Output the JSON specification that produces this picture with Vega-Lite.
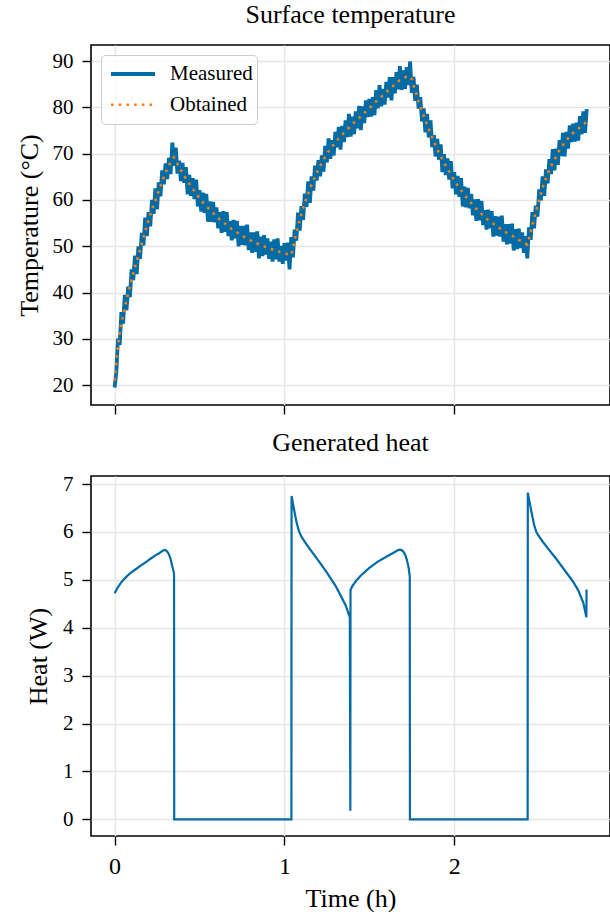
{
"$schema": "https://vega.github.io/schema/vega-lite/v6.json",
"background": "white",
"padding": {"left": 15, "top": 1, "right": 0, "bottom": 0},
"spacing": 71,
"bounds": "flush",
"config": {
  "font": "Liberation Serif",
  "view": {"stroke": "black", "strokeWidth": 1.6},
  "axis": {"domain": false, "grid": true, "gridColor": "#e6e6e6", "gridWidth": 1.5, "tickColor": "black", "tickSize": 9, "tickWidth": 1.4, "labelFont": "Liberation Serif", "labelColor": "black", "titleColor": "black", "titleFont": "Liberation Serif", "titleFontWeight": "normal", "labelPadding": 9},
  "title": {"font": "Liberation Serif", "fontSize": 26, "fontWeight": "normal", "color": "black", "offset": 16.6, "baseline": "alphabetic", "anchor": "middle", "frame": "group"},
  "legend": {"labelFont": "Liberation Serif", "labelFontSize": 21, "labelColor": "black", "symbolType": "stroke", "symbolSize": 1936, "symbolStrokeWidth": 2.4, "clipHeight": 30, "rowPadding": 0.7, "padding": 4, "symbolOffset": 4, "labelOffset": 13, "fillColor": "rgba(255,255,255,0.8)", "strokeColor": "#cccccc", "cornerRadius": 4, "orient": "top-left", "offset": 10}
},
"vconcat": [
{
  "title": "Surface temperature",
  "width": 519, "height": 360,
  "data": {"values": [
{"t":0,"Measured":19.5,"Obtained":21.0},{"t":0.01,"Measured":22.8,"Obtained":25.0},{"t":0.02,"Measured":30.1,"Obtained":28.5},{"t":0.03,"Measured":28.7,"Obtained":31.3},{"t":0.04,"Measured":35.8,"Obtained":33.4},{"t":0.05,"Measured":33.3,"Obtained":35.1},{"t":0.06,"Measured":39.5,"Obtained":36.7},{"t":0.07,"Measured":36.2,"Obtained":38.3},{"t":0.08,"Measured":41.3,"Obtained":39.9},{"t":0.09,"Measured":39.0,"Obtained":41.4},
{"t":0.10,"Measured":45.0,"Obtained":42.8},{"t":0.11,"Measured":42.7,"Obtained":44.2},{"t":0.12,"Measured":48.0,"Obtained":45.5},{"t":0.13,"Measured":44.0,"Obtained":46.8},{"t":0.14,"Measured":50.0,"Obtained":48.1},{"t":0.15,"Measured":47.3,"Obtained":49.3},{"t":0.16,"Measured":52.9,"Obtained":50.6},{"t":0.17,"Measured":50.2,"Obtained":51.9},{"t":0.18,"Measured":56.2,"Obtained":53.2},{"t":0.19,"Measured":52.2,"Obtained":54.5},
{"t":0.20,"Measured":57.4,"Obtained":55.7},{"t":0.21,"Measured":54.3,"Obtained":56.8},{"t":0.22,"Measured":60.0,"Obtained":57.9},{"t":0.23,"Measured":57.0,"Obtained":58.9},{"t":0.24,"Measured":62.5,"Obtained":59.9},{"t":0.25,"Measured":58.0,"Obtained":61.0},{"t":0.26,"Measured":63.8,"Obtained":62.0},{"t":0.27,"Measured":60.8,"Obtained":63.0},{"t":0.28,"Measured":66.4,"Obtained":64.0},{"t":0.29,"Measured":63.4,"Obtained":65.0},
{"t":0.30,"Measured":67.9,"Obtained":65.9},{"t":0.31,"Measured":64.5,"Obtained":66.7},{"t":0.32,"Measured":69.1,"Obtained":67.5},{"t":0.33,"Measured":65.6,"Obtained":68.2},{"t":0.34,"Measured":72.4,"Obtained":68.8},{"t":0.35,"Measured":67.4,"Obtained":69.2},{"t":0.36,"Measured":71.3,"Obtained":68.5},{"t":0.37,"Measured":65.7,"Obtained":67.8},{"t":0.38,"Measured":68.5,"Obtained":67.1},{"t":0.39,"Measured":64.1,"Obtained":66.5},
{"t":0.40,"Measured":68.0,"Obtained":65.8},{"t":0.41,"Measured":63.7,"Obtained":65.2},{"t":0.42,"Measured":67.1,"Obtained":64.6},{"t":0.43,"Measured":61.2,"Obtained":64.0},{"t":0.44,"Measured":65.4,"Obtained":63.5},{"t":0.45,"Measured":60.9,"Obtained":62.9},{"t":0.46,"Measured":64.7,"Obtained":62.4},{"t":0.47,"Measured":60.2,"Obtained":61.9},{"t":0.48,"Measured":64.4,"Obtained":61.4},{"t":0.49,"Measured":58.6,"Obtained":60.9},
{"t":0.50,"Measured":62.1,"Obtained":60.4},{"t":0.51,"Measured":57.5,"Obtained":60.0},{"t":0.52,"Measured":61.6,"Obtained":59.5},{"t":0.53,"Measured":57.2,"Obtained":59.1},{"t":0.54,"Measured":61.3,"Obtained":58.7},{"t":0.55,"Measured":55.3,"Obtained":58.3},{"t":0.56,"Measured":59.7,"Obtained":57.9},{"t":0.57,"Measured":55.3,"Obtained":57.5},{"t":0.58,"Measured":59.6,"Obtained":57.2},{"t":0.59,"Measured":55.2,"Obtained":56.8},
{"t":0.60,"Measured":58.4,"Obtained":56.4},{"t":0.61,"Measured":53.9,"Obtained":56.1},{"t":0.62,"Measured":57.4,"Obtained":55.8},{"t":0.63,"Measured":52.9,"Obtained":55.5},{"t":0.64,"Measured":57.6,"Obtained":55.2},{"t":0.65,"Measured":53.1,"Obtained":54.9},{"t":0.66,"Measured":57.4,"Obtained":54.6},{"t":0.67,"Measured":52.2,"Obtained":54.3},{"t":0.68,"Measured":55.4,"Obtained":54.0},{"t":0.69,"Measured":51.3,"Obtained":53.7},
{"t":0.70,"Measured":55.7,"Obtained":53.5},{"t":0.71,"Measured":51.7,"Obtained":53.2},{"t":0.72,"Measured":55.5,"Obtained":53.0},{"t":0.73,"Measured":50.0,"Obtained":52.8},{"t":0.74,"Measured":54.4,"Obtained":52.5},{"t":0.75,"Measured":50.3,"Obtained":52.3},{"t":0.76,"Measured":54.4,"Obtained":52.1},{"t":0.77,"Measured":50.2,"Obtained":51.9},{"t":0.78,"Measured":54.7,"Obtained":51.7},{"t":0.79,"Measured":49.2,"Obtained":51.5},
{"t":0.80,"Measured":53.0,"Obtained":51.3},{"t":0.81,"Measured":48.6,"Obtained":51.1},{"t":0.82,"Measured":53.0,"Obtained":50.9},{"t":0.83,"Measured":48.8,"Obtained":50.7},{"t":0.84,"Measured":53.2,"Obtained":50.6},{"t":0.85,"Measured":47.4,"Obtained":50.4},{"t":0.86,"Measured":52.1,"Obtained":50.3},{"t":0.87,"Measured":47.9,"Obtained":50.1},{"t":0.88,"Measured":52.4,"Obtained":50.0},{"t":0.89,"Measured":48.2,"Obtained":49.8},
{"t":0.90,"Measured":51.7,"Obtained":49.7},{"t":0.91,"Measured":47.3,"Obtained":49.5},{"t":0.92,"Measured":51.0,"Obtained":49.4},{"t":0.93,"Measured":46.7,"Obtained":49.3},{"t":0.94,"Measured":51.5,"Obtained":49.1},{"t":0.95,"Measured":47.2,"Obtained":49.0},{"t":0.96,"Measured":51.7,"Obtained":48.9},{"t":0.97,"Measured":46.7,"Obtained":48.8},{"t":0.98,"Measured":50.1,"Obtained":48.7},{"t":0.99,"Measured":46.2,"Obtained":48.6},
{"t":1.00,"Measured":50.7,"Obtained":48.5},{"t":1.01,"Measured":46.9,"Obtained":48.4},{"t":1.02,"Measured":50.8,"Obtained":48.3},{"t":1.03,"Measured":45.0,"Obtained":48.2},{"t":1.04,"Measured":52.0,"Obtained":48.1},{"t":1.05,"Measured":47.6,"Obtained":49.6},{"t":1.06,"Measured":53.6,"Obtained":51.3},{"t":1.07,"Measured":51.2,"Obtained":52.9},{"t":1.08,"Measured":57.3,"Obtained":54.3},{"t":1.09,"Measured":53.4,"Obtained":55.7},
{"t":1.10,"Measured":58.7,"Obtained":57.0},{"t":1.11,"Measured":55.7,"Obtained":58.2},{"t":1.12,"Measured":61.4,"Obtained":59.3},{"t":1.13,"Measured":58.5,"Obtained":60.4},{"t":1.14,"Measured":64.0,"Obtained":61.4},{"t":1.15,"Measured":59.4,"Obtained":62.4},{"t":1.16,"Measured":65.1,"Obtained":63.3},{"t":1.17,"Measured":62.0,"Obtained":64.2},{"t":1.18,"Measured":67.4,"Obtained":65.0},{"t":1.19,"Measured":64.2,"Obtained":65.8},
{"t":1.20,"Measured":68.6,"Obtained":66.6},{"t":1.21,"Measured":65.1,"Obtained":67.3},{"t":1.22,"Measured":69.6,"Obtained":68.0},{"t":1.23,"Measured":66.1,"Obtained":68.7},{"t":1.24,"Measured":71.7,"Obtained":69.3},{"t":1.25,"Measured":68.1,"Obtained":69.9},{"t":1.26,"Measured":73.3,"Obtained":70.5},{"t":1.27,"Measured":68.9,"Obtained":71.0},{"t":1.28,"Measured":72.9,"Obtained":71.5},{"t":1.29,"Measured":69.6,"Obtained":72.0},
{"t":1.30,"Measured":74.7,"Obtained":72.5},{"t":1.31,"Measured":71.4,"Obtained":72.9},{"t":1.32,"Measured":75.8,"Obtained":73.3},{"t":1.33,"Measured":70.9,"Obtained":73.7},{"t":1.34,"Measured":76.0,"Obtained":74.1},{"t":1.35,"Measured":72.5,"Obtained":74.5},{"t":1.36,"Measured":77.2,"Obtained":74.9},{"t":1.37,"Measured":73.6,"Obtained":75.3},{"t":1.38,"Measured":78.6,"Obtained":75.6},{"t":1.39,"Measured":73.7,"Obtained":76.0},
{"t":1.40,"Measured":78.0,"Obtained":76.3},{"t":1.41,"Measured":74.2,"Obtained":76.7},{"t":1.42,"Measured":79.1,"Obtained":77.0},{"t":1.43,"Measured":75.5,"Obtained":77.4},{"t":1.44,"Measured":80.3,"Obtained":77.7},{"t":1.45,"Measured":75.1,"Obtained":78.1},{"t":1.46,"Measured":80.2,"Obtained":78.4},{"t":1.47,"Measured":76.6,"Obtained":78.8},{"t":1.48,"Measured":81.5,"Obtained":79.1},{"t":1.49,"Measured":77.9,"Obtained":79.5},
{"t":1.50,"Measured":81.8,"Obtained":79.8},{"t":1.51,"Measured":78.0,"Obtained":80.2},{"t":1.52,"Measured":82.2,"Obtained":80.6},{"t":1.53,"Measured":78.3,"Obtained":80.9},{"t":1.54,"Measured":83.7,"Obtained":81.3},{"t":1.55,"Measured":79.8,"Obtained":81.6},{"t":1.56,"Measured":84.8,"Obtained":82.0},{"t":1.57,"Measured":80.2,"Obtained":82.3},{"t":1.58,"Measured":84.0,"Obtained":82.6},{"t":1.59,"Measured":80.6,"Obtained":83.0},
{"t":1.60,"Measured":85.5,"Obtained":83.3},{"t":1.61,"Measured":82.1,"Obtained":83.6},{"t":1.62,"Measured":86.5,"Obtained":84.0},{"t":1.63,"Measured":81.5,"Obtained":84.3},{"t":1.64,"Measured":86.5,"Obtained":84.6},{"t":1.65,"Measured":83.0,"Obtained":85.0},{"t":1.66,"Measured":87.6,"Obtained":85.3},{"t":1.67,"Measured":83.9,"Obtained":85.6},{"t":1.68,"Measured":88.9,"Obtained":85.9},{"t":1.69,"Measured":83.8,"Obtained":86.1},
{"t":1.70,"Measured":88.0,"Obtained":86.3},{"t":1.71,"Measured":84.0,"Obtained":86.5},{"t":1.72,"Measured":88.7,"Obtained":86.6},{"t":1.73,"Measured":84.8,"Obtained":86.7},{"t":1.74,"Measured":89.9,"Obtained":86.7},{"t":1.75,"Measured":83.1,"Obtained":86.1},{"t":1.76,"Measured":86.6,"Obtained":84.8},{"t":1.77,"Measured":81.4,"Obtained":83.6},{"t":1.78,"Measured":84.9,"Obtained":82.5},{"t":1.79,"Measured":79.7,"Obtained":81.3},
{"t":1.80,"Measured":82.2,"Obtained":80.2},{"t":1.81,"Measured":77.0,"Obtained":79.2},{"t":1.82,"Measured":79.8,"Obtained":78.2},{"t":1.83,"Measured":74.6,"Obtained":77.2},{"t":1.84,"Measured":78.6,"Obtained":76.2},{"t":1.85,"Measured":73.5,"Obtained":75.3},{"t":1.86,"Measured":77.2,"Obtained":74.4},{"t":1.87,"Measured":71.4,"Obtained":73.5},{"t":1.88,"Measured":74.0,"Obtained":72.6},{"t":1.89,"Measured":69.4,"Obtained":71.8},
{"t":1.90,"Measured":73.2,"Obtained":71.0},{"t":1.91,"Measured":68.7,"Obtained":70.2},{"t":1.92,"Measured":72.0,"Obtained":69.5},{"t":1.93,"Measured":66.0,"Obtained":68.8},{"t":1.94,"Measured":69.9,"Obtained":68.0},{"t":1.95,"Measured":65.4,"Obtained":67.4},{"t":1.96,"Measured":69.0,"Obtained":66.7},{"t":1.97,"Measured":64.4,"Obtained":66.1},{"t":1.98,"Measured":68.4,"Obtained":65.4},{"t":1.99,"Measured":62.5,"Obtained":64.8},
{"t":2.00,"Measured":66.0,"Obtained":64.3},{"t":2.01,"Measured":61.2,"Obtained":63.7},{"t":2.02,"Measured":65.2,"Obtained":63.1},{"t":2.03,"Measured":60.7,"Obtained":62.6},{"t":2.04,"Measured":64.7,"Obtained":62.1},{"t":2.05,"Measured":58.6,"Obtained":61.6},{"t":2.06,"Measured":62.9,"Obtained":61.1},{"t":2.07,"Measured":58.4,"Obtained":60.6},{"t":2.08,"Measured":62.6,"Obtained":60.2},{"t":2.09,"Measured":58.2,"Obtained":59.8},
{"t":2.10,"Measured":61.3,"Obtained":59.3},{"t":2.11,"Measured":56.7,"Obtained":58.9},{"t":2.12,"Measured":60.1,"Obtained":58.5},{"t":2.13,"Measured":55.5,"Obtained":58.1},{"t":2.14,"Measured":60.2,"Obtained":57.8},{"t":2.15,"Measured":55.6,"Obtained":57.4},{"t":2.16,"Measured":59.8,"Obtained":57.0},{"t":2.17,"Measured":54.6,"Obtained":56.7},{"t":2.18,"Measured":57.8,"Obtained":56.4},{"t":2.19,"Measured":53.6,"Obtained":56.0},
{"t":2.20,"Measured":57.9,"Obtained":55.7},{"t":2.21,"Measured":53.9,"Obtained":55.4},{"t":2.22,"Measured":57.6,"Obtained":55.1},{"t":2.23,"Measured":52.1,"Obtained":54.9},{"t":2.24,"Measured":56.5,"Obtained":54.6},{"t":2.25,"Measured":52.3,"Obtained":54.3},{"t":2.26,"Measured":56.4,"Obtained":54.1},{"t":2.27,"Measured":52.1,"Obtained":53.8},{"t":2.28,"Measured":56.6,"Obtained":53.6},{"t":2.29,"Measured":51.0,"Obtained":53.3},
{"t":2.30,"Measured":54.8,"Obtained":53.1},{"t":2.31,"Measured":50.4,"Obtained":52.9},{"t":2.32,"Measured":54.8,"Obtained":52.7},{"t":2.33,"Measured":50.6,"Obtained":52.5},{"t":2.34,"Measured":54.9,"Obtained":52.3},{"t":2.35,"Measured":49.1,"Obtained":52.1},{"t":2.36,"Measured":53.7,"Obtained":51.9},{"t":2.37,"Measured":49.4,"Obtained":51.6},{"t":2.38,"Measured":53.8,"Obtained":51.4},{"t":2.39,"Measured":49.6,"Obtained":51.2},
{"t":2.40,"Measured":53.0,"Obtained":51.0},{"t":2.41,"Measured":48.6,"Obtained":50.8},{"t":2.42,"Measured":52.2,"Obtained":50.6},{"t":2.43,"Measured":47.4,"Obtained":50.4},{"t":2.44,"Measured":54.1,"Obtained":51.7},{"t":2.45,"Measured":51.4,"Obtained":53.2},{"t":2.46,"Measured":57.4,"Obtained":54.6},{"t":2.47,"Measured":53.9,"Obtained":56.0},{"t":2.48,"Measured":58.8,"Obtained":57.4},{"t":2.49,"Measured":56.4,"Obtained":58.8},
{"t":2.50,"Measured":62.3,"Obtained":60.1},{"t":2.51,"Measured":59.9,"Obtained":61.4},{"t":2.52,"Measured":65.1,"Obtained":62.6},{"t":2.53,"Measured":60.9,"Obtained":63.7},{"t":2.54,"Measured":66.6,"Obtained":64.7},{"t":2.55,"Measured":63.6,"Obtained":65.6},{"t":2.56,"Measured":68.8,"Obtained":66.5},{"t":2.57,"Measured":65.6,"Obtained":67.3},{"t":2.58,"Measured":71.0,"Obtained":68.0},{"t":2.59,"Measured":66.4,"Obtained":68.7},
{"t":2.60,"Measured":71.1,"Obtained":69.4},{"t":2.61,"Measured":67.6,"Obtained":70.1},{"t":2.62,"Measured":72.9,"Obtained":70.8},{"t":2.63,"Measured":69.5,"Obtained":71.4},{"t":2.64,"Measured":74.5,"Obtained":71.9},{"t":2.65,"Measured":69.4,"Obtained":72.4},{"t":2.66,"Measured":74.7,"Obtained":72.9},{"t":2.67,"Measured":71.1,"Obtained":73.3},{"t":2.68,"Measured":76.1,"Obtained":73.7},{"t":2.69,"Measured":72.5,"Obtained":74.1},
{"t":2.70,"Measured":76.5,"Obtained":74.5},{"t":2.71,"Measured":72.6,"Obtained":74.8},{"t":2.72,"Measured":76.7,"Obtained":75.1},{"t":2.73,"Measured":72.8,"Obtained":75.4},{"t":2.74,"Measured":78.1,"Obtained":75.7},{"t":2.75,"Measured":74.2,"Obtained":76.0},{"t":2.76,"Measured":79.1,"Obtained":76.3},{"t":2.77,"Measured":74.5,"Obtained":76.6},{"t":2.78,"Measured":79.6,"Obtained":76.8}
  ]},
  "transform": [{"fold": ["Measured", "Obtained"], "as": ["series", "temp"]}],
  "mark": {"type": "line", "strokeCap": "butt", "strokeJoin": "miter", "clip": true},
  "encoding": {
    "x": {"field": "t", "type": "quantitative", "scale": {"domain": [-0.139, 2.917], "nice": false, "zero": false}, "axis": {"values": [0, 1, 2], "labels": false, "title": null}},
    "y": {"field": "temp", "type": "quantitative", "scale": {"domain": [15.74, 93.46], "nice": false, "zero": false}, "axis": {"values": [20, 30, 40, 50, 60, 70, 80, 90], "format": "d", "title": "Temperature (°C)", "labelFontSize": 21, "titleFontSize": 26, "titlePadding": 10}},
    "color": {"field": "series", "type": "nominal", "scale": {"domain": ["Measured", "Obtained"], "range": ["#006BA4", "#FF800E"]}, "legend": {"title": null}},
    "strokeDash": {"field": "series", "type": "nominal", "scale": {"domain": ["Measured", "Obtained"], "range": [[1, 0], [2.6, 5.1]]}, "legend": {"title": null}},
    "strokeWidth": {"field": "series", "type": "nominal", "scale": {"domain": ["Measured", "Obtained"], "range": [3.8, 2.6]}, "legend": null}
  }
},
{
  "title": "Generated heat",
  "width": 519, "height": 360,
  "data": {"values": [
{"t":0,"q":4.72},{"t":0.02,"q":4.85},{"t":0.04,"q":4.95},{"t":0.06,"q":5.03},{"t":0.08,"q":5.10},{"t":0.10,"q":5.16},{"t":0.12,"q":5.21},{"t":0.14,"q":5.26},{"t":0.16,"q":5.31},{"t":0.18,"q":5.36},{"t":0.20,"q":5.41},{"t":0.22,"q":5.46},{"t":0.24,"q":5.51},{"t":0.26,"q":5.55},{"t":0.28,"q":5.60},{"t":0.29,"q":5.62},{"t":0.30,"q":5.62},{"t":0.31,"q":5.59},{"t":0.32,"q":5.53},{"t":0.33,"q":5.43},{"t":0.34,"q":5.28},{"t":0.35,"q":5.13},{"t":0.351,"q":0},
{"t":1.041,"q":0},{"t":1.042,"q":6.75},{"t":1.055,"q":6.5},{"t":1.07,"q":6.22},{"t":1.085,"q":6.02},{"t":1.10,"q":5.9},{"t":1.12,"q":5.79},{"t":1.15,"q":5.64},{"t":1.20,"q":5.40},{"t":1.25,"q":5.15},{"t":1.30,"q":4.88},{"t":1.33,"q":4.68},{"t":1.36,"q":4.47},{"t":1.385,"q":4.22},{"t":1.388,"q":0.18},{"t":1.389,"q":4.78},
{"t":1.40,"q":4.87},{"t":1.42,"q":4.97},{"t":1.45,"q":5.09},{"t":1.50,"q":5.25},{"t":1.55,"q":5.38},{"t":1.60,"q":5.48},{"t":1.65,"q":5.58},{"t":1.67,"q":5.62},{"t":1.68,"q":5.63},{"t":1.69,"q":5.62},{"t":1.70,"q":5.59},{"t":1.71,"q":5.53},{"t":1.72,"q":5.43},{"t":1.73,"q":5.28},{"t":1.738,"q":5.08},{"t":1.739,"q":0},
{"t":2.432,"q":0},{"t":2.433,"q":6.82},{"t":2.45,"q":6.5},{"t":2.47,"q":6.15},{"t":2.485,"q":5.98},{"t":2.50,"q":5.9},{"t":2.52,"q":5.8},{"t":2.55,"q":5.66},{"t":2.60,"q":5.44},{"t":2.65,"q":5.2},{"t":2.70,"q":4.96},{"t":2.73,"q":4.78},{"t":2.76,"q":4.52},{"t":2.778,"q":4.22},{"t":2.779,"q":4.8}
  ]},
  "mark": {"type": "line", "color": "#006BA4", "strokeWidth": 2.2, "clip": true},
  "encoding": {
    "x": {"field": "t", "type": "quantitative", "scale": {"domain": [-0.139, 2.917], "nice": false, "zero": false}, "axis": {"values": [0, 1, 2], "format": "d", "title": "Time (h)", "labelFontSize": 24, "titleFontSize": 26, "titlePadding": 7}},
    "y": {"field": "q", "type": "quantitative", "scale": {"domain": [-0.348, 7.167], "nice": false, "zero": false}, "axis": {"values": [0, 1, 2, 3, 4, 5, 6, 7], "format": "d", "title": "Heat (W)", "labelFontSize": 21, "titleFontSize": 26, "titlePadding": 11}}
  }
}
]
}
